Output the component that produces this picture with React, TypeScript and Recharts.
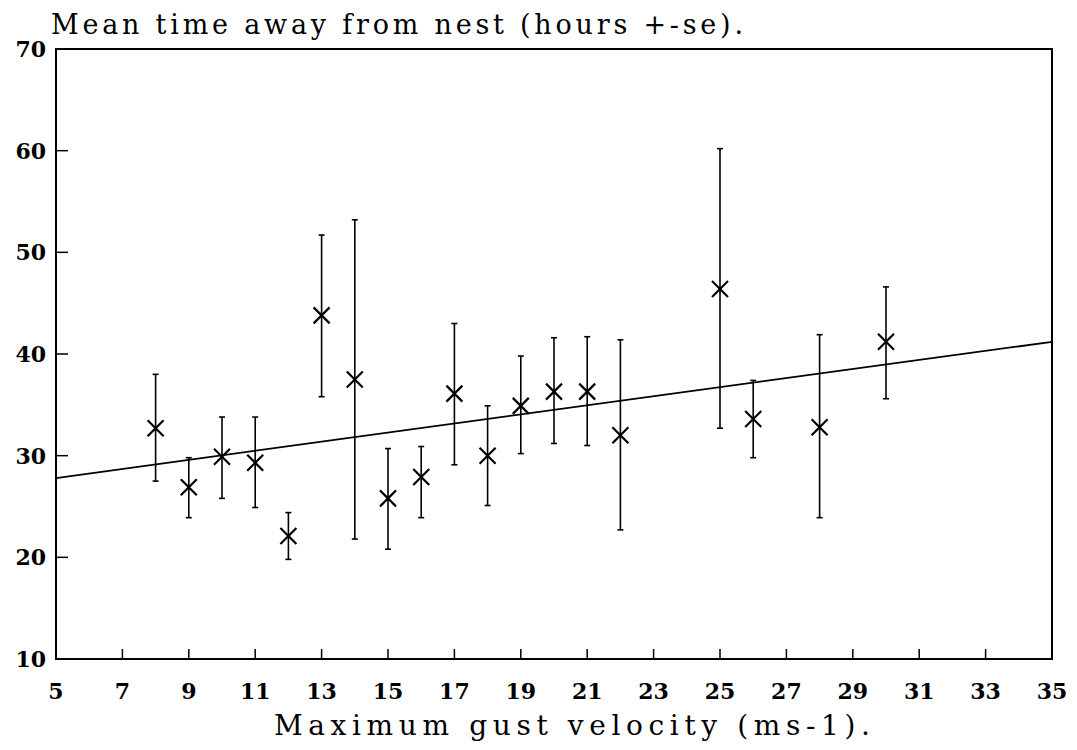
import React from "react";
import {
  ScatterChart,
  Scatter,
  XAxis,
  YAxis,
  ErrorBar,
  ReferenceLine,
  ReferenceArea,
} from "recharts";

// values
const gust = [8, 9, 10, 11, 12, 13, 14, 15, 16, 17, 18, 19, 20, 21, 22, 25, 26, 28, 30];
const meanHours = [32.7, 26.9, 29.9, 29.3, 22.1, 43.8, 37.5, 25.8, 27.9, 36.1, 30.0, 34.9, 36.3, 36.3, 32.0, 46.4, 33.6, 32.8, 41.2];
const upperHours = [38.0, 29.8, 33.8, 33.8, 24.4, 51.7, 53.2, 30.7, 30.9, 43.0, 34.9, 39.8, 41.6, 41.7, 41.4, 60.2, 37.4, 41.9, 46.6];
const lowerHours = [27.5, 23.9, 25.8, 24.9, 19.8, 35.8, 21.8, 20.8, 23.9, 29.1, 25.1, 30.2, 31.2, 31.0, 22.7, 32.7, 29.8, 23.9, 35.6];

// fitted regression line end points
const fitX = [5, 35];
const fitY = [27.8, 41.2];

const xTicks = [5, 7, 9, 11, 13, 15, 17, 19, 21, 23, 25, 27, 29, 31, 33, 35];
const yTicks = [10, 20, 30, 40, 50, 60, 70];

const points = gust.map((g, i) => ({
  gust: g,
  hours: meanHours[i],
  err: [meanHours[i] - lowerHours[i], upperHours[i] - meanHours[i]],
}));

const FONT = "'DejaVu Serif', serif";

const XTick = (props: any) => {
  const { x, y, payload } = props;
  return (
    <g>
      <line x1={x} x2={x} y1={y} y2={y - 10} stroke="#000" strokeWidth={1.5} />
      <text x={x} y={y + 40} textAnchor="middle" fontSize={22} fontWeight="bold" fontFamily={FONT} fill="#000">
        {payload.value}
      </text>
    </g>
  );
};

const YTick = (props: any) => {
  const { x, y, payload } = props;
  return (
    <g>
      <line x1={x} x2={x + 12} y1={y} y2={y} stroke="#000" strokeWidth={1.5} />
      <text x={x - 10} y={y + 8} textAnchor="end" fontSize={22} fontWeight="bold" fontFamily={FONT} fill="#000">
        {payload.value}
      </text>
    </g>
  );
};

const Cross = (props: any) => {
  const { cx, cy } = props;
  const s = 8;
  return (
    <g stroke="#000" strokeWidth={2.2}>
      <line x1={cx - s} y1={cy - s} x2={cx + s} y2={cy + s} />
      <line x1={cx - s} y1={cy + s} x2={cx + s} y2={cy - s} />
    </g>
  );
};

export default function App() {
  return (
    <div style={{ position: "relative", width: 1061, height: 734, background: "#fff" }}>
      <ScatterChart width={1061} height={734} margin={{ top: 41, right: 17, left: 0, bottom: 43 }}>
        <XAxis
          type="number"
          dataKey="gust"
          domain={[5, 35]}
          ticks={xTicks}
          interval={0}
          axisLine={false}
          tickLine={false}
          tickSize={0}
          tickMargin={0}
          height={40}
          tick={<XTick />}
        />
        <YAxis
          type="number"
          dataKey="hours"
          domain={[10, 70]}
          ticks={yTicks}
          interval={0}
          axisLine={false}
          tickLine={false}
          tickSize={0}
          tickMargin={0}
          width={48}
          tick={<YTick />}
        />
        <ReferenceArea x1={5} x2={35} y1={10} y2={70} fill="none" stroke="#000" strokeWidth={2} />
        <ReferenceLine
          segment={[
            { x: fitX[0], y: fitY[0] },
            { x: fitX[1], y: fitY[1] },
          ]}
          stroke="#000"
          strokeWidth={1.8}
        />
        <Scatter data={points} shape={<Cross />} isAnimationActive={false}>
          <ErrorBar dataKey="err" direction="y" width={3} stroke="#000" strokeWidth={1.6} />
        </Scatter>
      </ScatterChart>
      <svg
        width={1061}
        height={734}
        style={{ position: "absolute", left: 0, top: 0, pointerEvents: "none" }}
      >
        <text x={43} y={26} fontSize={27} fontFamily={FONT} fill="#000" textLength={692} lengthAdjust="spacing">
          Mean time away from nest (hours +-se).
        </text>
        <text x={266} y={727} fontSize={28} fontFamily={FONT} fill="#000" textLength={596} lengthAdjust="spacing">
          Maximum gust velocity (ms-1).
        </text>
      </svg>
    </div>
  );
}
